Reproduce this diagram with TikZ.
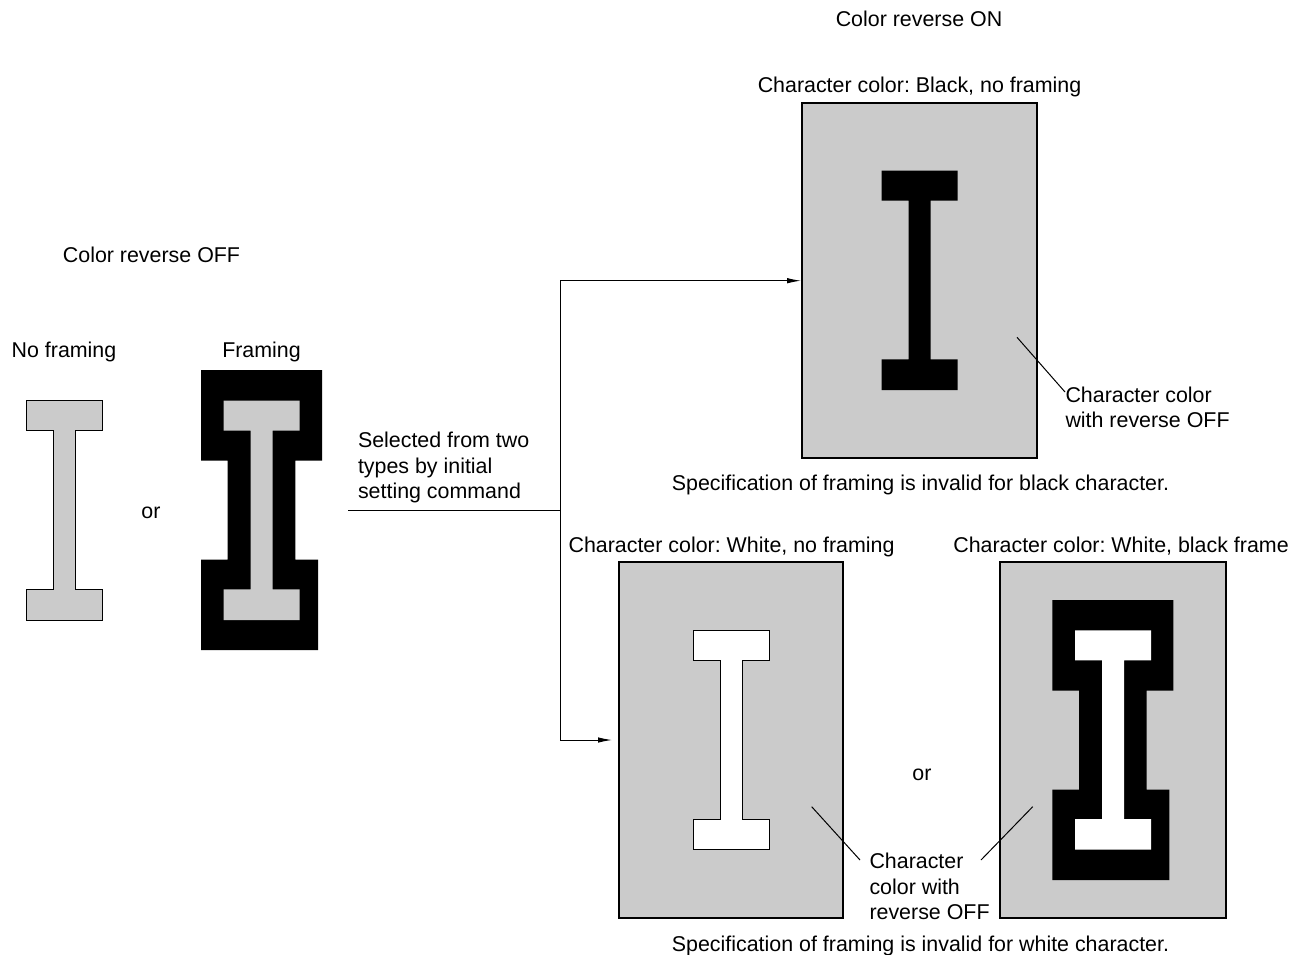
\documentclass[tikz,border=0pt]{standalone}
\usepackage{fontspec}
\setmainfont{Liberation Sans}
\frenchspacing
\usetikzlibrary{arrows.meta}
\definecolor{panelgray}{HTML}{CBCBCB}
\newcommand{\glyphI}[1]{% I-shape at top-left #1
  [shift={(#1)}] (0,0) -- (76,0) -- (76,30) -- (49,30) -- (49,188.7) -- (76,188.7) -- (76,219.3) -- (0,219.3) -- (0,188.7) -- (27,188.7) -- (27,30) -- (0,30) -- cycle}
\newcommand{\glyphFrame}[1]{% frame outline at top-left #1
  [shift={(#1)}] (0,0) -- (121,0) -- (121,90.5) -- (94.3,90.5) -- (94.3,189.5) -- (117,189.5) -- (117,280.2) -- (0,280.2) -- (0,189.5) -- (26.7,189.5) -- (26.7,90.5) -- (0,90.5) -- cycle}
\tikzset{
  x=1pt,y=-1pt,
  every node/.style={font=\fontsize{21.4pt}{25.3pt}\selectfont,inner sep=0pt,outer sep=0pt},
  lbl/.style={anchor=center},
  blk/.style={align=left,anchor=west},
  panel/.style={draw=black,line width=2.2pt,fill=panelgray,rectangle,anchor=north west},
  conn/.style={draw=black,line width=1pt},
  arrowed/.style={conn,-{Latex[length=14pt,width=5.5pt]}},
  solidblack/.style={fill=black,draw=none}
}
\begin{document}
\begin{tikzpicture}
\useasboundingbox (0,0) rectangle (1298,954);
% headings
\node[lbl] (hOn) at (919,19) {Color reverse ON};
\node[lbl] (hOff) at (151.5,255) {Color reverse OFF};
\node[lbl] (tNo) at (64,352) {No framing};
\node[lbl] (tFr) at (261.5,352) {Framing};
\node[lbl] (or1) at (151,513) {or};
\node[lbl] (tBlack) at (919.5,86.5) {Character color: Black, no framing};
\node[lbl] (tWhite) at (731.5,546.5) {Character color: White, no framing};
\node[lbl] (tWFrame) at (1121,546.5) {Character color: White, black frame};
\node[lbl] (nBlack) at (920.5,484.5) {Specification of framing is invalid for black character.};
\node[lbl] (nWhite) at (920.5,945.5) {Specification of framing is invalid for white character.};
\node[lbl] (or2) at (922,775) {or};
\node[blk] (sel) at (358,467.5) {Selected from two\\types by initial\\setting command};
% left glyphs
\fill[fill=panelgray,draw=black,line width=1pt] \glyphI{26,400.7};
\fill[solidblack] \glyphFrame{201,370};
\fill[fill=panelgray] \glyphI{223.7,400.7};
% panels
\node[panel,minimum width=235pt,minimum height=355.6pt] (pBlack) at (801.7,102.7) {};
\node[panel,minimum width=224.3pt,minimum height=355.4pt] (pWhite) at (619,562.3) {};
\node[panel,minimum width=225.7pt,minimum height=355.4pt] (pFrame) at (1000,562.3) {};
% panel glyphs
\fill[solidblack] \glyphI{881.7,170.7};
\fill[fill=white,draw=black,line width=1pt] \glyphI{693.3,630.3};
\fill[solidblack] \glyphFrame{1052.3,600};
\fill[fill=white] \glyphI{1075,630.3};
% annotation text
\node[blk] (cBlack) at (1065.5,407.5) {Character color\\with reverse OFF};
\node[blk] (cWhite) at (869.5,886.5) {Character\\color with\\reverse OFF};
% connectors
\coordinate (src) at (348,510);
\coordinate (jct) at (560,510);
\coordinate (toBlack) at (801,280.7);
\coordinate (toWhite) at (612,740);
\draw[conn] (src) -- (jct);
\draw[arrowed] (jct) |- (toBlack);
\draw[arrowed] (jct) |- (toWhite);
% leaders
\coordinate (lb1) at (1017,337.3);
\coordinate (lb2) at (1065,392);
\coordinate (lw1) at (811.7,806.7);
\coordinate (lw2) at (860,860);
\coordinate (lf1) at (1032.7,806.7);
\coordinate (lf2) at (981,860);
\draw[conn] (lb1) -- (lb2);
\draw[conn] (lw1) -- (lw2);
\draw[conn] (lf1) -- (lf2);
\end{tikzpicture}
\end{document}
